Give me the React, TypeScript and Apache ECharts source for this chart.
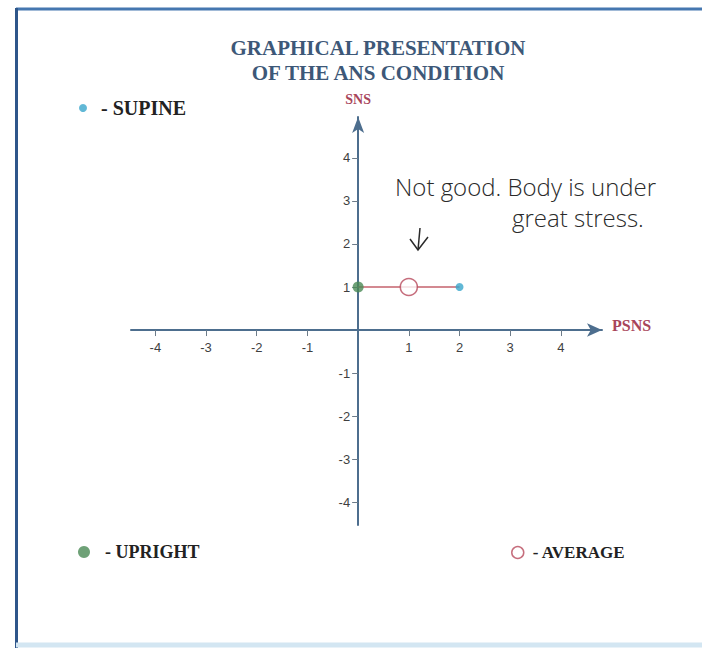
import React, { useEffect, useRef } from "react";
import * as echarts from "echarts";

const titleLines = ["GRAPHICAL PRESENTATION", "OF THE ANS CONDITION"];
const tickValues = [-4, -3, -2, -1, 1, 2, 3, 4];
const uprightData = [[0, 1]];
const averageData = [[1, 1]];
const supineData = [[2, 1]];
const connectorData = [[0, 1], [2, 1]];
const noteLines = ["Not good. Body is under", "great stress."];
const xAxisName = "PSNS";
const yAxisName = "SNS";

const serif = "'Liberation Serif', 'Times New Roman', serif";
const sans = "'Liberation Sans', Arial, sans-serif";
const hand = "'Open Sans', 'DejaVu Sans', sans-serif";

const GRID_LEFT = 131;
const GRID_TOP = 117;
const GRID_RIGHT = 100;
const GRID_BOTTOM = 123;
const CHART_H = 648;

export default function App() {
  const ref = useRef<HTMLDivElement>(null);
  useEffect(() => {
    if (!ref.current) return;
    const chart = echarts.init(ref.current, null, { renderer: "svg" });
    const legendText = {
      fontFamily: serif,
      fontWeight: "bold",
      fontSize: 18,
      color: "#222",
    };
    chart.setOption({
      animation: false,
      backgroundColor: "#ffffff",
      title: {
        text: titleLines.join("\n"),
        left: 378,
        top: 35,
        textAlign: "center",
        padding: 0,
        textStyle: {
          fontFamily: serif,
          fontWeight: "bold",
          fontSize: 21,
          lineHeight: 25,
          color: "#3d5878",
        },
      },
      legend: [
        {
          data: ["SUPINE"],
          left: 79,
          top: 98,
          padding: 0,
          icon: "circle",
          itemWidth: 26,
          itemHeight: 8,
          selectedMode: false,
          formatter: "- {name}",
          textStyle: { ...legendText, fontSize: 20 },
        },
        {
          data: ["UPRIGHT"],
          left: 78,
          top: 543,
          padding: 0,
          icon: "circle",
          itemWidth: 32,
          itemHeight: 12,
          selectedMode: false,
          formatter: "- {name}",
          textStyle: legendText,
        },
        {
          data: ["AVERAGE"],
          left: 511,
          top: 544,
          padding: 0,
          icon: "circle",
          itemWidth: 20,
          itemHeight: 12,
          selectedMode: false,
          formatter: "- {name}",
          textStyle: { ...legendText, fontSize: 17 },
          itemStyle: { color: "#ffffff", borderColor: "#b84a5c", borderWidth: 1.5 },
        },
      ],
      grid: {
        left: GRID_LEFT,
        right: GRID_RIGHT,
        top: GRID_TOP,
        bottom: GRID_BOTTOM,
        outerBoundsMode: "none",
      },
      xAxis: {
        type: "value",
        min: -4.48,
        max: 4.81,
        name: xAxisName,
        nameLocation: "end",
        nameGap: 10,
        nameTextStyle: {
          fontFamily: serif,
          fontWeight: "bold",
          fontSize: 16,
          color: "#a8455a",
          verticalAlign: "bottom",
          lineHeight: 10,
        },
        splitLine: { show: false },
        axisLine: {
          onZero: false,
          symbol: ["none", "arrow"],
          symbolSize: [10, 15],
          lineStyle: { color: "#4d6e8e", width: 2 },
        },
        axisTick: {
          customValues: tickValues,
          length: 6,
          lineStyle: { color: "#6d7c8a", width: 1 },
        },
        axisLabel: {
          customValues: tickValues,
          margin: 11,
          fontFamily: sans,
          fontSize: 13,
          color: "#3f3f3f",
        },
      },
      yAxis: {
        type: "value",
        min: -4.53,
        max: 4.95,
        name: yAxisName,
        nameLocation: "end",
        nameGap: 11,
        nameTextStyle: {
          fontFamily: serif,
          fontWeight: "bold",
          fontSize: 14,
          color: "#a8455a",
        },
        splitLine: { show: false },
        axisLine: {
          onZero: false,
          symbol: ["none", "arrow"],
          symbolSize: [9, 16],
          lineStyle: { color: "#4d6e8e", width: 2 },
        },
        axisTick: {
          customValues: tickValues,
          length: 6,
          lineStyle: { color: "#6d7c8a", width: 1 },
        },
        axisLabel: {
          customValues: tickValues,
          margin: 8,
          fontFamily: sans,
          fontSize: 13,
          color: "#3f3f3f",
        },
      },
      series: [
        {
          name: "connector",
          type: "line",
          data: connectorData,
          symbol: "none",
          silent: true,
          lineStyle: { color: "#c4626c", width: 1.5 },
          z: 1,
        },
        {
          name: "AVERAGE",
          type: "scatter",
          data: averageData,
          symbol: "circle",
          symbolSize: 17,
          itemStyle: { color: "#ffffff", borderColor: "#b84a5c", borderWidth: 1.5 },
          z: 3,
        },
        {
          name: "UPRIGHT",
          type: "scatter",
          data: uprightData,
          symbol: "circle",
          symbolSize: 11,
          itemStyle: { color: "#4a8a55" },
          z: 4,
        },
        {
          name: "SUPINE",
          type: "scatter",
          data: supineData,
          symbol: "circle",
          symbolSize: 8,
          itemStyle: { color: "#3aa6cc" },
          z: 4,
        },
      ],
      graphic: [
        { type: "line", shape: { x1: 16, y1: 9, x2: 702, y2: 9 }, style: { stroke: "#4577b0", lineWidth: 3 } },
        { type: "line", shape: { x1: 16.5, y1: 8, x2: 16.5, y2: 648 }, style: { stroke: "#2e568a", lineWidth: 3 } },
        { type: "line", shape: { x1: 16, y1: 645, x2: 702, y2: 645 }, style: { stroke: "#d3e6f2", lineWidth: 5 } },
        {
          type: "text",
          x: 395,
          y: 186,
          style: {
            text: noteLines[0],
            fontFamily: hand,
            fontWeight: 300,
            fontSize: 24,
            fill: "#2a2a2a",
            textVerticalAlign: "middle",
          },
        },
        {
          type: "text",
          x: 512,
          y: 217,
          style: {
            text: noteLines[1],
            fontFamily: hand,
            fontWeight: 300,
            fontSize: 24,
            fill: "#2a2a2a",
            textVerticalAlign: "middle",
          },
        },
        { type: "line", shape: { x1: 420, y1: 228, x2: 418, y2: 250 }, style: { stroke: "#2a2a2a", lineWidth: 1.5 } },
        {
          type: "polyline",
          shape: { points: [[410, 239], [418, 250], [428, 237]] },
          style: { stroke: "#2a2a2a", lineWidth: 1.5, fill: "none" },
        },
      ],
    });
    // Move both axes (line, ticks, labels) so they cross at the origin of the scales.
    const origin = chart.convertToPixel({ gridIndex: 0 }, [0, 0]) as number[];
    if (origin && isFinite(origin[0]) && isFinite(origin[1])) {
      chart.setOption({
        yAxis: { offset: -(origin[0] - GRID_LEFT) },
        xAxis: { offset: -(CHART_H - GRID_BOTTOM - origin[1]) },
      });
    }
    return () => chart.dispose();
  }, []);
  return (
    <div
      ref={ref}
      style={{ position: "fixed", left: 0, top: 0, width: 702, height: 648 }}
    />
  );
}
